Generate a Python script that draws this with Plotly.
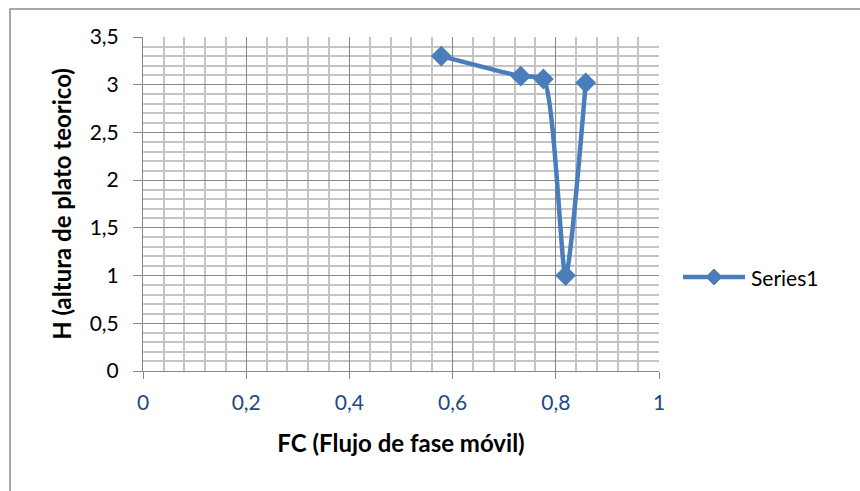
import plotly.graph_objects as go

# FC (mobile-phase flow) vs H (theoretical plate height)
fc_values = [0.578, 0.732, 0.776, 0.819, 0.858]
h_values = [3.30, 3.09, 3.06, 1.00, 3.02]
series_name = "Series1"

x_title = "FC (Flujo de fase móvil)"
y_title = "H (altura de plato teorico)"

FONT = "Lato, sans-serif"
LINE_BLUE = "#4A7EBB"
MAJOR_GRID = "#878787"
MINOR_GRID = "#C4C4C4"

W, H = 860, 491
L, R, T, B = 143, 201, 37, 120
pw, ph = W - L - R, H - T - B


def to_paper(px, py):
    """Pixel position on the page -> paper coordinates."""
    return (px - L) / pw, (H - B - py) / ph


fig = go.Figure()
fig.add_trace(go.Scatter(
    x=fc_values,
    y=h_values,
    name=series_name,
    mode="lines+markers",
    line=dict(color=LINE_BLUE, width=4.5, shape="spline", smoothing=0.6),
    marker=dict(symbol="diamond", size=16, color=LINE_BLUE),
    showlegend=False,
))

fig.update_layout(
    width=W, height=H,
    margin=dict(l=L, r=R, t=T, b=B),
    paper_bgcolor="white",
    plot_bgcolor="white",
    separators=",.",
    font=dict(family=FONT, size=21, color="black"),
    showlegend=False,
    xaxis=dict(
        range=[0, 1], dtick=0.2, tick0=0,
        showgrid=True, gridcolor=MAJOR_GRID, gridwidth=1,
        minor=dict(dtick=0.04, showgrid=True, gridcolor=MINOR_GRID, gridwidth=1.5),
        showline=True, linecolor=MAJOR_GRID, linewidth=1,
        ticks="outside", ticklen=7, tickcolor=MAJOR_GRID,
        ticklabelstandoff=6,
        tickfont=dict(family=FONT, size=21, color="#1F497D"),
        zeroline=False,
        title=dict(text=f"<b>{x_title}</b>", font=dict(family=FONT, size=24, color="black"), standoff=21),
    ),
    yaxis=dict(
        range=[0, 3.5], dtick=0.5, tick0=0,
        showgrid=True, gridcolor=MAJOR_GRID, gridwidth=1,
        minor=dict(dtick=0.1, showgrid=True, gridcolor=MINOR_GRID, gridwidth=1.5),
        showline=True, linecolor=MAJOR_GRID, linewidth=1,
        ticks="outside", ticklen=9, tickcolor=MAJOR_GRID,
        ticklabelstandoff=10,
        tickfont=dict(family=FONT, size=21, color="black"),
        zeroline=False,
        title=dict(text=f"<b>{y_title}</b>", font=dict(family=FONT, size=24, color="black"), standoff=11),
    ),
)

# Chart-area frame
fx0, fy0 = to_paper(10, H + 10)
fx1, fy1 = to_paper(W + 10, 9)
fig.add_shape(
    type="rect", xref="paper", yref="paper",
    x0=fx0, x1=fx1, y0=fy0, y1=fy1,
    line=dict(color="#8C8C8C", width=1.5),
    fillcolor="rgba(0,0,0,0)",
    layer="below",
)

# Legend entry: line sample with a diamond marker, then the series name
lx0, ly = to_paper(683, 277)
lx1, _ = to_paper(745, 277)
fig.add_shape(
    type="line", xref="paper", yref="paper",
    x0=lx0, x1=lx1, y0=ly, y1=ly,
    line=dict(color=LINE_BLUE, width=4.5),
)
cx, cy = 714, 277
d = 8
pts = [to_paper(cx, cy - d), to_paper(cx + d, cy), to_paper(cx, cy + d), to_paper(cx - d, cy)]
path = "M " + " L ".join(f"{x:.5f} {y:.5f}" for x, y in pts) + " Z"
fig.add_shape(
    type="path", xref="paper", yref="paper", path=path,
    fillcolor=LINE_BLUE, line=dict(color=LINE_BLUE, width=1),
)
tx, _ = to_paper(749, 277)
fig.add_annotation(
    xref="paper", yref="paper", x=tx, y=ly,
    xanchor="left", yanchor="middle", showarrow=False,
    text=series_name, font=dict(family=FONT, size=21, color="black"),
)

fig.write_html("out.html")
